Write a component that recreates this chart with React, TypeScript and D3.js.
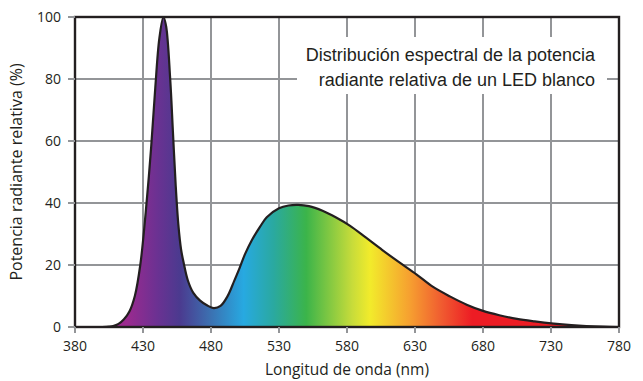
import { useMemo } from "react";
import * as d3 from "d3";

const MARGIN = { top: 17, right: 24, bottom: 54, left: 75 };
const WIDTH = 643;
const HEIGHT = 381;

// wavelength (nm) and relative radiant power (%)
const wavelengths = [
  380, 400, 405, 408, 412, 416, 420, 424, 428, 432, 436, 439, 442, 445, 447, 450,
  452, 454, 456, 458, 460, 463, 467, 472, 477, 482, 487, 492, 497, 501, 505, 510,
  516, 521, 530, 537, 544, 552, 562, 572, 582, 594, 606, 618, 631, 643, 656,
  668, 680, 692, 705, 718, 732, 745, 756, 768, 780,
];
const power = [
  0, 0, 0.1, 0.3, 1, 2.5, 5, 10, 20, 37, 58, 77, 93, 100, 97, 80,
  63, 46, 33, 25, 20.5, 15, 11, 8.5, 7, 6.1, 6.8, 9.8, 14.8, 19, 23.5, 28,
  32.3, 35.4, 38.3, 39.2, 39.4, 39, 37.5, 35.3, 32.7, 28.8, 24.8, 21, 17, 13, 9.8,
  7.2, 5.2, 3.8, 2.6, 1.8, 1.1, 0.6, 0.3, 0.1, 0,
];

const xTicks = [380, 430, 480, 530, 580, 630, 680, 730, 780];
const yTicks = [0, 20, 40, 60, 80, 100];

// spectrum colour stops
const stopNm = [380, 418, 440, 457, 479, 504, 526, 550, 584, 597, 626, 650, 672, 780];
const stopColor = [
  "#a0288e", "#9b2a8f", "#6c3192", "#4b3a8f", "#3c6fb0", "#27a9e1", "#2aa9a0",
  "#3bb44a", "#c8dc3a", "#f2eb2b", "#f6a030", "#f05a30", "#ed1c24", "#ed1c24",
];

const title = [
  "Distribución espectral de la potencia",
  "radiante relativa de un LED blanco",
];

export default function App() {
  const boundsWidth = WIDTH - MARGIN.left - MARGIN.right;
  const boundsHeight = HEIGHT - MARGIN.top - MARGIN.bottom;

  const xScale = d3.scaleLinear().domain([380, 780]).range([0, boundsWidth]);
  const yScale = d3.scaleLinear().domain([0, 100]).range([boundsHeight, 0]);

  const points = wavelengths.map((w, i) => [w, power[i]] as [number, number]);

  const curve = d3.curveCatmullRom.alpha(0.5);

  const area = useMemo(
    () =>
      d3
        .area<[number, number]>()
        .x((d) => xScale(d[0]))
        .y0(yScale(0))
        .y1((d) => Math.min(yScale(0), yScale(d[1])))
        .curve(curve)(points),
    []
  );
  const line = useMemo(
    () =>
      d3
        .line<[number, number]>()
        .x((d) => xScale(d[0]))
        .y((d) => yScale(d[1]))
        .curve(curve)(points),
    []
  );

  const tickFont = "'Open Sans', 'DejaVu Sans', sans-serif";

  return (
    <div style={{ position: "absolute", left: 0, top: 0 }}>
      <svg width={WIDTH} height={HEIGHT} style={{ display: "block" }}>
        <defs>
          <linearGradient id="spectrum" gradientUnits="userSpaceOnUse" x1={0} x2={boundsWidth} y1={0} y2={0}>
            {stopNm.map((nm, i) => (
              <stop key={nm + "-" + i} offset={(nm - 380) / 400} stopColor={stopColor[i]} />
            ))}
          </linearGradient>
          <clipPath id="plot">
            <rect x={0} y={0} width={boundsWidth} height={boundsHeight} />
          </clipPath>
        </defs>
        <g transform={`translate(${MARGIN.left},${MARGIN.top})`}>
          {/* grid */}
          {xTicks.slice(1, -1).map((t) => (
            <line key={"gx" + t} x1={xScale(t)} x2={xScale(t)} y1={0} y2={boundsHeight} stroke="#939598" strokeWidth={2} />
          ))}
          {yTicks.slice(1, -1).map((t) => (
            <line key={"gy" + t} x1={0} x2={boundsWidth} y1={yScale(t)} y2={yScale(t)} stroke="#939598" strokeWidth={2} />
          ))}

          {/* title box */}
          <rect x={222} y={20} width={310} height={57} fill="#fff" />
          {title.map((t, i) => (
            <text
              key={t}
              x={520}
              y={44 + i * 25}
              textAnchor="end"
              fontFamily="'Liberation Sans', Arial, sans-serif"
              fontSize={18}
              fill="#231f20"
            >
              {t}
            </text>
          ))}

          {/* spectrum */}
          <g clipPath="url(#plot)">
            <path d={area ?? ""} fill="url(#spectrum)" />
            <path d={line ?? ""} fill="none" stroke="#231f20" strokeWidth={2.2} strokeLinejoin="round" />
          </g>

          {/* frame */}
          <rect x={0} y={0} width={boundsWidth} height={boundsHeight} fill="none" stroke="#231f20" strokeWidth={2.4} />

          {/* ticks */}
          {xTicks.map((t) => (
            <g key={"xt" + t} transform={`translate(${xScale(t)},${boundsHeight})`}>
              <line y1={0} y2={6} stroke="#939598" strokeWidth={2} />
              <text y={24} textAnchor="middle" fontFamily={tickFont} fontSize={14} fill="#231f20">
                {t}
              </text>
            </g>
          ))}
          {yTicks.map((t) => (
            <g key={"yt" + t} transform={`translate(0,${yScale(t)})`}>
              <line x1={-7} x2={0} stroke="#939598" strokeWidth={2} />
              <text x={-14} dy="0.36em" textAnchor="end" fontFamily={tickFont} fontSize={14} fill="#231f20">
                {t}
              </text>
            </g>
          ))}

          {/* axis titles */}
          <text
            x={boundsWidth / 2}
            y={boundsHeight + 48}
            textAnchor="middle"
            fontFamily={tickFont}
            fontSize={15.5}
            fill="#231f20"
          >
            Longitud de onda (nm)
          </text>
          <text
            transform={`translate(${-53},${boundsHeight / 2}) rotate(-90)`}
            textAnchor="middle"
            fontFamily={tickFont}
            fontSize={16}
            fill="#231f20"
          >
            Potencia radiante relativa (%)
          </text>
        </g>
      </svg>
    </div>
  );
}
